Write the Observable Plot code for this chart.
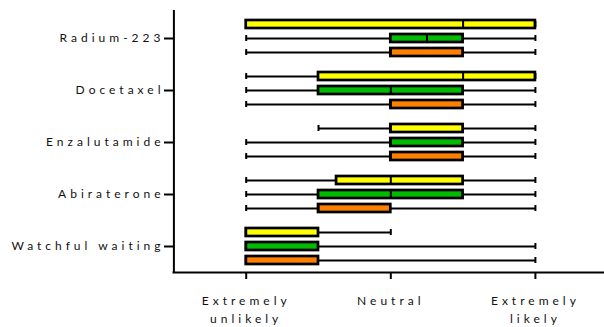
<!DOCTYPE html>
<html>
<head>
<meta charset="utf-8">
<script src="https://cdn.jsdelivr.net/npm/d3@7"></script>
<script src="https://cdn.jsdelivr.net/npm/@observablehq/plot@0.6"></script>
<style>
  html, body { margin: 0; padding: 0; background: #fff; }
  #chart svg text { letter-spacing: 4px; }
</style>
</head>
<body>
<div id="chart"></div>
<script>
// Categories
const treatments = ["Radium-223", "Docetaxel", "Enzalutamide", "Abiraterone", "Watchful waiting"];
const seriesNames = ["Yellow", "Green", "Orange"];
const seriesColors = ["#FFFF00", "#00BB00", "#FF8000"];

// Box-plot statistics per series (in treatment order), scale 1..5
const yellowMin = [1, 1, 2, 1, 1];
const yellowQ1  = [1, 2, 3, 2.25, 1];
const yellowMed = [4, 4, 3, 3, 1];
const yellowQ3  = [5, 5, 4, 4, 2];
const yellowMax = [5, 5, 5, 5, 3];

const greenMin = [1, 1, 1, 1, 1];
const greenQ1  = [3, 2, 3, 2, 1];
const greenMed = [3.5, 3, 3, 3, 1];
const greenQ3  = [4, 4, 4, 4, 2];
const greenMax = [5, 5, 5, 5, 5];

const orangeMin = [1, 1, 1, 1, 1];
const orangeQ1  = [3, 3, 3, 2, 1];
const orangeMed = [3, 3, 3, 2, 1];
const orangeQ3  = [4, 4, 4, 3, 2];
const orangeMax = [5, 5, 5, 5, 5];

// Tick labels
const xTickValues = [1, 3, 5];
const xTickLabels = ["Extremely\nunlikely", "Neutral", "Extremely\nlikely"];

const stats = [
  [yellowMin, yellowQ1, yellowMed, yellowQ3, yellowMax],
  [greenMin, greenQ1, greenMed, greenQ3, greenMax],
  [orangeMin, orangeQ1, orangeMed, orangeQ3, orangeMax]
];
const rowOffsets = [-14, 0, 14];

const marks = [];
seriesNames.forEach((s, si) => {
  const [mn, q1, md, q3, mx] = stats[si];
  const rows = treatments.map((t, i) => ({
    treatment: t, series: s, min: mn[i], q1: q1[i], median: md[i], q3: q3[i], max: mx[i]
  }));
  const dy = rowOffsets[si];
  marks.push(
    Plot.ruleY(rows, {y: "treatment", x1: "min", x2: "max", dy, stroke: "black", strokeWidth: 2}),
    Plot.tickX(rows, {x: "min", y: "treatment", dy, insetTop: 23, insetBottom: 23, stroke: "black", strokeWidth: 2}),
    Plot.tickX(rows, {x: "max", y: "treatment", dy, insetTop: 23, insetBottom: 23, stroke: "black", strokeWidth: 2}),
    Plot.barX(rows, {x1: "q1", x2: "q3", y: "treatment", dy, insetTop: 22, insetBottom: 22,
      fill: seriesColors[si], stroke: "black", strokeWidth: 2.7}),
    Plot.tickX(rows, {x: "median", y: "treatment", dy, insetTop: 22, insetBottom: 22, stroke: "black", strokeWidth: 2})
  );
});

const chart = Plot.plot({
  width: 604,
  height: 327,
  marginTop: 10,
  marginBottom: 55,
  marginLeft: 173,
  marginRight: 0,
  style: {fontFamily: "Lato, sans-serif", fontSize: "12px", color: "#000", background: "#fff"},
  x: {domain: [0, 6], range: [173.4, 607.2]},
  y: {domain: treatments, range: [12, 272], padding: 0},
  marks: [
    Plot.ruleX([0], {stroke: "black", strokeWidth: 2}),
    Plot.frame({anchor: "bottom", stroke: "black", strokeWidth: 2}),
    Plot.axisY({tickSize: 9, tickPadding: 0, strokeWidth: 2, fontSize: 12, label: null, fill: "#111"}),
    Plot.axisX({ticks: xTickValues, tickFormat: d => xTickLabels[xTickValues.indexOf(d)],
      tickSize: 7, tickPadding: 13, strokeWidth: 2, fontSize: 12, lineHeight: 1.5, label: null, fill: "#111"}),
    ...marks
  ]
});
document.getElementById("chart").appendChild(chart);
</script>
</body>
</html>
